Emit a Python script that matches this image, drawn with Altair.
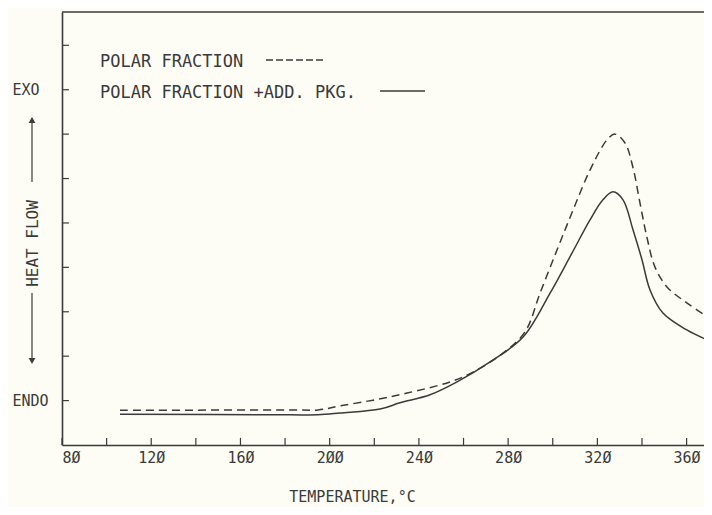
import altair as alt
import pandas as pd

# ---- data ----
polar_T = [106.0, 182.2, 194.8, 204.6, 219.4, 234.7, 253.9, 264.2, 277.7, 287.6,
           294.3, 301.9, 309.1, 316.7, 324.3, 327.9, 332.4, 335.9, 339.1, 342.2,
           345.8, 351.2, 360.1, 371.3]
polar_H = [0.78, 0.79, 0.79, 0.88, 1.01, 1.17, 1.42, 1.64, 2.07, 2.55,
           3.42, 4.39, 5.29, 6.19, 6.87, 7.00, 6.80, 6.26, 5.45, 4.68,
           4.01, 3.56, 3.20, 2.82]

pkg_T = [106.0, 182.2, 194.8, 204.6, 222.6, 231.5, 245.0, 257.1, 271.9, 286.7,
         298.8, 308.6, 316.7, 322.5, 327.0, 331.5, 336.0, 340.0, 343.6, 349.4,
         360.1, 371.3]
pkg_H = [0.69, 0.68, 0.68, 0.72, 0.81, 0.95, 1.13, 1.42, 1.87, 2.43,
         3.42, 4.32, 5.07, 5.52, 5.70, 5.52, 4.84, 4.17, 3.49, 2.97,
         2.59, 2.32]

x_tick_values = [80, 100, 120, 140, 160, 180, 200, 220, 240, 260, 280, 300, 320, 340, 360]
x_label_values = [80, 120, 160, 200, 240, 280, 320, 360]
y_tick_values = [1, 2, 3, 4, 5, 6, 7, 8, 9]
y_label_values = [1, 8]
legend_labels = ["POLAR FRACTION", "POLAR FRACTION +ADD.  PKG."]

X_MIN, X_MAX = 80, 367.8
Y_MIN, Y_MAX = 0, 9.75
W, H = 642, 433
INK = "#3a3a3a"
FONT = "DejaVu Sans Mono"

df_polar = pd.DataFrame({"T": polar_T, "H": polar_H})
df_pkg = pd.DataFrame({"T": pkg_T, "H": pkg_H})
df_xt = pd.DataFrame({"T": x_tick_values, "y0": 0.0, "y1": 0.16})
df_yt = pd.DataFrame({"H": y_tick_values, "x0": 80.0, "x1": 83.1})

xs = alt.Scale(domain=[X_MIN, X_MAX], nice=False, zero=False)
ys = alt.Scale(domain=[Y_MIN, Y_MAX], nice=False, zero=False)

x_axis = alt.Axis(
    values=x_label_values, ticks=False, grid=False, domain=True,
    domainColor=INK, domainWidth=1.6,
    labelExpr="replace(replace(replace(datum.label, '0', 'Ø'), '0', 'Ø'), '0', 'Ø')",
    labelFont=FONT, labelFontSize=15, labelColor=INK, labelPadding=5,
    title="TEMPERATURE,°C", titleFont=FONT, titleFontSize=15, titleFontWeight="normal",
    titleColor=INK, titleX=290, titleY=56, titleAlign="center", titleBaseline="alphabetic",
)
y_axis = alt.Axis(
    values=y_label_values, ticks=False, grid=False, domain=True,
    domainColor=INK, domainWidth=1.6,
    labelExpr="datum.value === 8 ? 'EXO' : 'ENDO'",
    labelFont=FONT, labelFontSize=15, labelColor=INK, labelPadding=50, labelAlign="left",
    title="HEAT FLOW", titleFont=FONT, titleFontSize=16, titleFontWeight="normal",
    titleColor=INK, titleX=-30, titleY=231, titleAngle=270, titleAlign="center",
    titleBaseline="middle",
)

polar = alt.Chart(df_polar).mark_line(
    color=INK, strokeWidth=1.5, strokeDash=[8, 5], interpolate="catmull-rom", clip=True
).encode(x=alt.X("T:Q", scale=xs, axis=x_axis), y=alt.Y("H:Q", scale=ys, axis=y_axis))

pkg = alt.Chart(df_pkg).mark_line(
    color=INK, strokeWidth=1.5, interpolate="catmull-rom", clip=True
).encode(x=alt.X("T:Q", scale=xs), y=alt.Y("H:Q", scale=ys))

xticks = alt.Chart(df_xt).mark_rule(color=INK, strokeWidth=1.2).encode(
    x=alt.X("T:Q", scale=xs), y=alt.Y("y0:Q", scale=ys), y2="y1:Q")
yticks = alt.Chart(df_yt).mark_rule(color=INK, strokeWidth=1.2).encode(
    y=alt.Y("H:Q", scale=ys), x=alt.X("x0:Q", scale=xs), x2="x1:Q")

top_frame = alt.Chart(pd.DataFrame({"a": [0]})).mark_rule(color=INK, strokeWidth=1.6).encode(
    x=alt.value(0), x2=alt.value(W), y=alt.value(0))

leg_df = pd.DataFrame({"label": legend_labels, "row": [0, 1]})
leg_text1 = alt.Chart(leg_df.iloc[[0]]).mark_text(
    align="left", baseline="middle", font=FONT, fontSize=17, color=INK
).encode(text="label:N", x=alt.value(38), y=alt.value(50))
leg_text2 = alt.Chart(leg_df.iloc[[1]]).mark_text(
    align="left", baseline="middle", font=FONT, fontSize=17, color=INK
).encode(text="label:N", x=alt.value(38), y=alt.value(81))
leg_dash = alt.Chart(leg_df.iloc[[0]]).mark_rule(color=INK, strokeWidth=1.4, strokeDash=[7, 3]).encode(
    x=alt.value(204), x2=alt.value(261), y=alt.value(48))
leg_solid = alt.Chart(leg_df.iloc[[1]]).mark_rule(color=INK, strokeWidth=1.4).encode(
    x=alt.value(318), x2=alt.value(363), y=alt.value(79))

# arrows beside the y title
arrow_up = alt.Chart(leg_df.iloc[[0]]).mark_rule(color=INK, strokeWidth=1.2).encode(
    x=alt.value(-30), y=alt.value(106), y2=alt.value(170))
arrow_dn = alt.Chart(leg_df.iloc[[0]]).mark_rule(color=INK, strokeWidth=1.2).encode(
    x=alt.value(-30), y=alt.value(281), y2=alt.value(348))
head_up = alt.Chart(leg_df.iloc[[0]]).mark_point(
    shape="triangle-up", filled=True, color=INK, size=45, opacity=1).encode(
    x=alt.value(-30), y=alt.value(108))
head_dn = alt.Chart(leg_df.iloc[[0]]).mark_point(
    shape="triangle-down", filled=True, color=INK, size=45, opacity=1).encode(
    x=alt.value(-30), y=alt.value(349))

chart = alt.layer(
    polar, pkg, xticks, yticks, top_frame,
    leg_text1, leg_text2, leg_dash, leg_solid,
    arrow_up, arrow_dn, head_up, head_dn,
).properties(
    width=W, height=H,
    autosize=alt.AutoSizeParams(type="none"),
    padding={"left": 54, "top": 4, "right": 0, "bottom": 62},
    background="#fdfdf5",
).configure_view(stroke=None)

chart.save("out.html", embed_options={"renderer": "svg", "actions": False})
